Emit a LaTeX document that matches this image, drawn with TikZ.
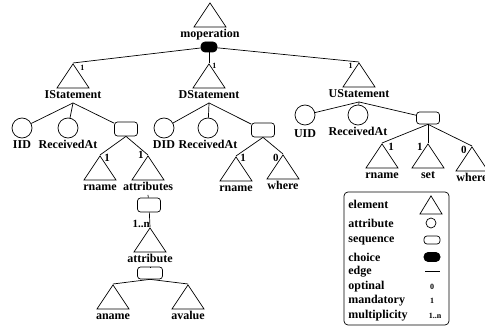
\documentclass[tikz,border=0pt]{standalone}
\usepackage{fontspec}
\setmainfont{Liberation Serif}
\usetikzlibrary{positioning, shapes.geometric}

\begin{document}
\begin{tikzpicture}[
  x=1pt, y=-1pt,
  line width=0.7pt,
  font=\fontsize{12}{14}\selectfont\bfseries,
  elem/.style={draw, isosceles triangle, shape border rotate=90,
    isosceles triangle stretches, minimum width=32pt, minimum height=24pt,
    inner sep=0pt, anchor=apex},
  attr/.style={draw, circle, minimum size=20pt, inner sep=0pt},
  seqbox/.style={draw, rounded corners=3pt, minimum width=23pt,
    minimum height=14pt, inner sep=0pt},
  choicebox/.style={draw, fill=black, rounded corners=4pt, minimum width=16pt,
    minimum height=10pt, inner sep=0pt},
  tag/.style={inner sep=1.5pt, text height=8.5pt, text depth=2.5pt},
  mul/.style={inner sep=0pt, font=\fontsize{11}{12}\selectfont\bfseries},
  tinymul/.style={inner sep=0pt, font=\fontsize{8}{9}\selectfont\bfseries},
  keytext/.style={inner sep=0pt, anchor=west},
]
\useasboundingbox (0,0) rectangle (485,326);

% root
\node[elem] (mop) at (210,2) {};
\node[tag, below=0pt of mop] (mop-t) {moperation};
\node[choicebox] (cho) at (209,47) {};

% statements
\node[elem] (ist) at (73,63) {};
\node[tag, below=0pt of ist] (ist-t) {IStatement};
\node[elem] (dst) at (209,63) {};
\node[tag, below=0pt of dst] (dst-t) {DStatement};
\node[elem] (ust) at (359,62) {};
\node[tag, below=0pt of ust] (ust-t) {UStatement};

\draw (cho) -- (ist.apex);
\draw (cho) -- (dst.apex);
\draw (cho) -- (ust.apex);
\node[tinymul, below right=2pt and 7pt of ist.apex] {1};
\node[tinymul, below right=0pt and 3pt of dst.apex] {1};
\node[tinymul, below left=1pt and 6pt of ust.apex] {1};

% IStatement
\node[attr] (iid) at (22,128) {};
\node[tag, below=0pt of iid] (iid-t) {IID};
\node[attr] (irec) at (68,128) {};
\node[tag, below=0pt of irec] (irec-t) {ReceivedAt};
\node[seqbox] (iseq) at (126,129) {};
\draw (ist-t.south) -- (iid);
\draw (ist-t.south) -- (irec);
\draw (ist-t.south) -- (iseq);

\node[elem] (irn) at (100,155) {};
\node[tag, below=0pt of irn] (irn-t) {rname};
\node[elem] (iat) at (148,155) {};
\node[tag, below=0pt of iat] (iat-t) {attributes};
\draw (iseq.south) -- (irn.apex);
\draw (iseq.south) -- (iat.apex);
\node[mul, below right=-1pt and 4pt of irn.apex] {1};
\node[mul, left=4pt of iat.apex] {1};

% attributes
\node[seqbox] (aseq) at (149,205) {};
\node[elem] (atr) at (150,227) {};
\node[tag, below=0pt of atr] (atr-t) {attribute};
\node[seqbox, minimum width=25pt, minimum height=12pt] (vseq) at (150,273) {};
\node[elem] (anm) at (113,284) {};
\node[tag, below=0pt of anm] (anm-t) {aname};
\node[elem] (avl) at (188,284) {};
\node[tag, below=0pt of avl] (avl-t) {avalue};
\draw (iat-t.south) -- (aseq);
\draw (aseq) -- (atr.apex);
\draw (atr-t.south) -- (vseq);
\draw (vseq.south) -- (anm.apex);
\draw (vseq.south) -- (avl.apex);
\node[mul, above left=-1pt and 0pt of atr.apex] {1..n};

% DStatement
\node[attr] (did) at (164,128) {};
\node[tag, below=0pt of did] (did-t) {DID};
\node[attr] (drec) at (208,128) {};
\node[tag, below=0pt of drec] (drec-t) {ReceivedAt};
\node[seqbox] (dseq) at (263,130) {};
\draw (dst-t.south) -- (did);
\draw (dst-t.south) -- (drec);
\draw (dst-t.south) -- (dseq);

\node[elem] (drn) at (236,156) {};
\node[tag, below=0pt of drn] (drn-t) {rname};
\node[elem] (dwh) at (283,154) {};
\node[tag, below=0pt of dwh] (dwh-t) {where};
\draw (dseq.south) -- (drn.apex);
\draw (dseq.south) -- (dwh.apex);
\node[mul, below right=-2pt and 4pt of drn.apex] {1};
\node[mul, below left=0pt and 4pt of dwh.apex] {0};

% UStatement
\node[attr] (uid) at (305,115) {};
\node[tag, below=2pt of uid] (uid-t) {UID};
\node[attr] (urec) at (358,115) {};
\node[tag, below=0pt of urec] (urec-t) {ReceivedAt};
\node[seqbox, minimum height=12pt] (useq) at (428,118) {};
\draw (ust-t.south) -- (uid);
\draw (ust-t.south) -- (urec);
\draw (ust-t.south) -- (useq);

\node[elem] (urn) at (382,143) {};
\node[tag, below=0pt of urn] (urn-t) {rname};
\node[elem] (uset) at (428,143) {};
\node[tag, below=0pt of uset] (uset-t) {set};
\node[elem] (uwh) at (472,146) {};
\node[tag, below=0pt of uwh] (uwh-t) {where};
\draw (useq.south) -- (urn.apex);
\draw (useq.south) -- (uset.apex);
\draw (useq.south) -- (uwh.apex);
\node[mul, below right=0pt and 6pt of urn.apex] {1};
\node[mul, below left=0pt and 5pt of uset.apex] {1};
\node[mul, below left=0pt and 5pt of uwh.apex] {0};

% Legend
\node[draw, rounded corners=4pt, minimum width=105pt, minimum height=133pt]
  (legend) at (396.5,258.5) {};
\node[keytext] (k-elem-t) at (348,204) {element};
\node[keytext] (k-attr-t) at (348,223) {attribute};
\node[keytext] (k-seq-t) at (348,241) {sequence};
\node[keytext] (k-cho-t) at (348,257) {choice};
\node[keytext] (k-edge-t) at (348,272) {edge};
\node[keytext] (k-opt-t) at (348,287) {optinal};
\node[keytext] (k-man-t) at (348,301) {mandatory};
\node[keytext] (k-mul-t) at (348,316) {multiplicity};

\node[elem, minimum width=22pt, minimum height=18pt] (k-elem) at (431,195) {};
\node[attr, minimum size=10pt] (k-attr) at (431,223) {};
\node[seqbox, minimum width=16pt, minimum height=8pt] (k-seq) at (432,240) {};
\node[choicebox, minimum width=16pt, minimum height=9pt] (k-cho) at (432,257) {};
\coordinate (k-e1) at (425,271);
\coordinate (k-e2) at (440,271);
\draw (k-e1) -- (k-e2);
\node[tinymul] (k-opt) at (432,287) {0};
\node[tinymul] (k-man) at (432,301) {1};
\node[tinymul] (k-mul) at (435,316) {1..n};

\end{tikzpicture}
\end{document}
